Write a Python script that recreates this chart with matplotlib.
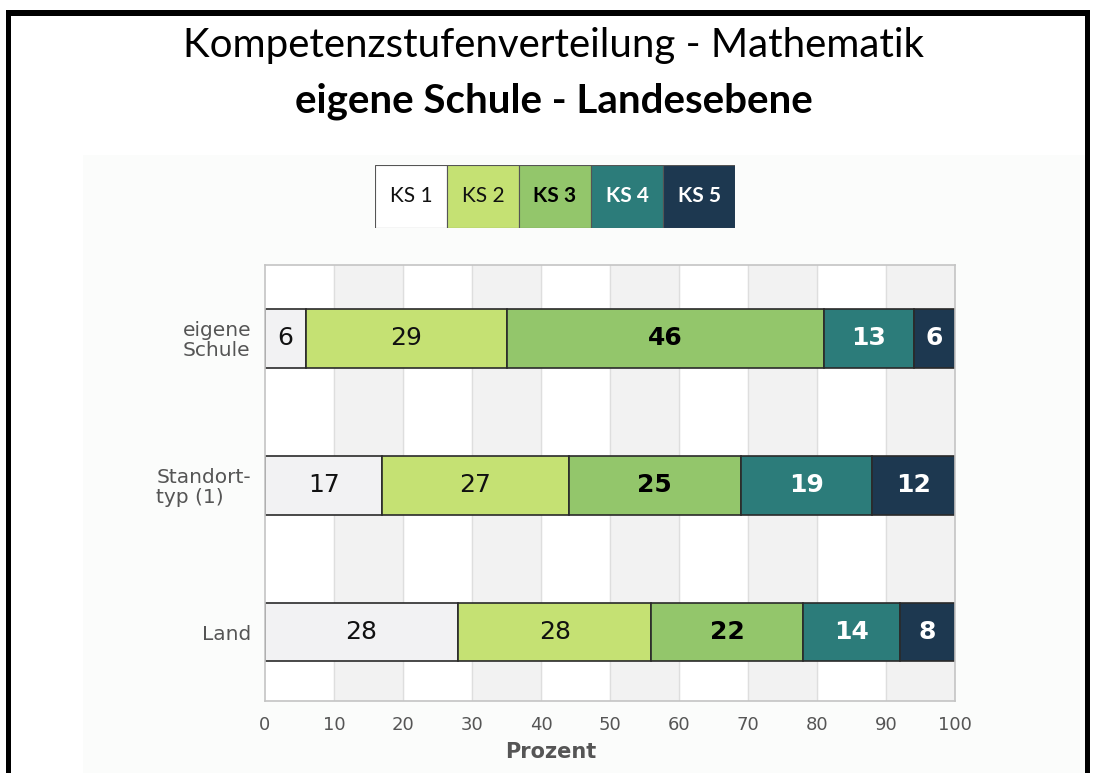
import matplotlib.pyplot as plt
from matplotlib.patches import Rectangle
import numpy as np

# data
groups = ["eigene\nSchule", "Standort-\ntyp (1)", "Land"]
levels = ["KS 1", "KS 2", "KS 3", "KS 4", "KS 5"]
eigene_schule = [6, 29, 46, 13, 6]
standorttyp = [17, 27, 25, 19, 12]
land = [28, 28, 22, 14, 8]
values = np.array([eigene_schule, standorttyp, land])

bar_colors = ["#f2f2f3", "#c5e173", "#93c66b", "#2c7c7a", "#1d3850"]
legend_colors = ["#ffffff", "#c5e173", "#93c66b", "#2c7c7a", "#1d3850"]
text_colors = ["#111111", "#111111", "#000000", "#ffffff", "#ffffff"]
text_weights = ["normal", "normal", "bold", "bold", "bold"]

W, H = 1094, 773
fig = plt.figure(figsize=(W / 100, H / 100), dpi=100)
fig.patch.set_facecolor("white")

def fx(px):
    return px / W

def fy(py):
    return 1 - py / H

# light chart panel
fig.patches.append(Rectangle((fx(83), 0), fx(1085) - fx(83), fy(155), transform=fig.transFigure,
                             facecolor="#fbfcfb", edgecolor="none", zorder=-5))

# outer black frame
for r in [(fx(6), 0, fx(5), fy(10)),
          (fx(1085), 0, fx(5), fy(10)),
          (fx(6), fy(16), fx(1090) - fx(6), fy(10) - fy(16))]:
    fig.patches.append(Rectangle((r[0], r[1]), r[2], r[3], transform=fig.transFigure,
                                 facecolor="black", edgecolor="none", zorder=5))

# titles
fig.text(fx(554), fy(46), "Kompetenzstufenverteilung - Mathematik", ha="center", va="center",
         fontsize=29, family="Lato", color="black")
fig.text(fx(554), fy(101), "eigene Schule - Landesebene", ha="center", va="center",
         fontsize=29, family="Lato", fontweight="bold", color="black")

# legend strip
lax = fig.add_axes([fx(375), fy(228), fx(735) - fx(375), fy(165) - fy(228)])
lax.bar(np.arange(len(levels)), 1, width=1, align="edge", color=legend_colors,
        edgecolor="#555555", linewidth=0.8)
for i, lab in enumerate(levels):
    lax.text(i + 0.5, 0.5, lab, ha="center", va="center", fontsize=15, family="Lato",
             color=text_colors[i], fontweight=text_weights[i])
lax.set_xlim(0, len(levels))
lax.set_ylim(0, 1)
lax.axis("off")

# main chart
ax = fig.add_axes([fx(265), fy(701), fx(955) - fx(265), fy(265) - fy(701)])
ax.set_facecolor("white")
for x0 in range(10, 100, 20):
    ax.axvspan(x0, x0 + 10, color="#f2f2f2", zorder=0)
for x0 in range(10, 100, 10):
    ax.axvline(x0, color="#dedede", linewidth=1, zorder=0.5)

y = np.arange(len(groups))
left = np.zeros(len(groups))
for j in range(len(levels)):
    ax.barh(y, values[:, j], left=left, height=0.4, color=bar_colors[j],
            edgecolor="#2a2a2a", linewidth=1.2, zorder=2)
    for i in range(len(groups)):
        ax.text(left[i] + values[i, j] / 2, y[i], str(values[i, j]), ha="center", va="center",
                fontsize=18, color=text_colors[j], fontweight=text_weights[j], zorder=3)
    left += values[:, j]

ax.set_xlim(0, 100)
ax.set_ylim(2.47, -0.5)
ax.set_xticks(range(0, 101, 10))
ax.set_yticks(y)
ax.set_yticklabels(groups, fontsize=14.5, color="#555555", linespacing=1.05,
                   multialignment="left")
ax.tick_params(axis="x", labelsize=13, labelcolor="#555555", length=0, pad=11)
ax.tick_params(axis="y", length=0, pad=10)
ax.set_xlabel("Prozent", fontsize=15, fontweight="bold", color="#555555")
ax.xaxis.set_label_coords((551 - 265) / 690, -0.095)
for s in ax.spines.values():
    s.set_color("#c4c4c4")
    s.set_linewidth(1.2)

fig.savefig("out.png", dpi=100)
